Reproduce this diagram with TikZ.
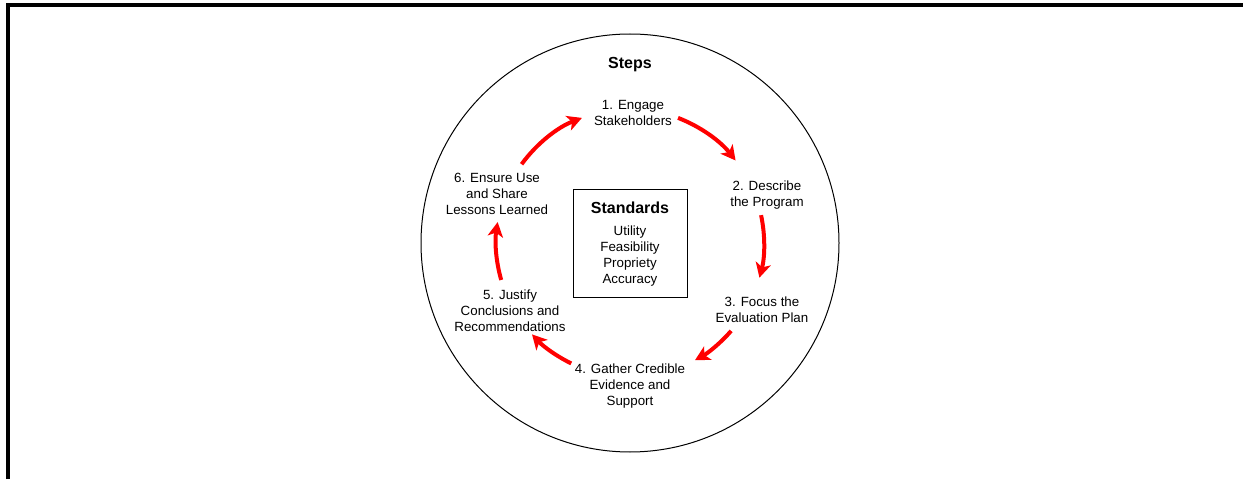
\documentclass[tikz,border=0pt]{standalone}
\usepackage{fontspec}
\setmainfont{Liberation Sans}
\usepackage{tikz}
\usetikzlibrary{arrows.meta}
\usetikzlibrary{positioning}

\begin{document}
\begin{tikzpicture}
    [x=0.75pt,y=0.75pt,
stepnode/.style={align=center, font=\fontsize{10}{12}\selectfont, inner sep=0pt},steparrow/.style={draw=red, line width=3pt, -{Stealth[length=11pt,width=11.5pt,inset=3pt]}}
]
\useasboundingbox (0,0) rectangle (1243,479);
\draw[line width=3pt] (8,0) -- (8,473.5) -- (1243,473.5);

\coordinate (centre) at (630,236);
\draw[line width=0.75pt] (centre) circle[radius=209];

\node[font=\fontsize{12}{14}\selectfont\bfseries](title) at (630,414){Steps};

\node[stepnode](step1) at (633,366){1. Engage\\Stakeholders};
\node[stepnode](step2) at (767,284){2. Describe\\the Program};
\node[stepnode](step3) at (762,169){3. Focus the\\Evaluation Plan};
\node[stepnode](step4) at (630,93){4. Gather Credible\\Evidence and\\Support};
\node[stepnode](step5) at (510,168){5. Justify\\Conclusions and\\Recommendations};
\node[stepnode](step6) at (497,285){6. Ensure Use\\and Share\\Lessons Learned};

\node[draw, line width=0.75pt, minimum width=85.5pt, minimum height=81pt, align=center, font=\fontsize{10}{12}\selectfont](standards) at (630,235){{\fontsize{12}{14}\selectfont\bfseries Standards}\\[4pt]Utility\\Feasibility\\Propriety\\Accuracy};

\coordinate (arc1) at ([shift={(144:134)}]centre);
\coordinate (arc2) at ([shift={(69:134)}]centre);
\coordinate (arc3) at ([shift={(12:134)}]centre);
\coordinate (arc4) at ([shift={(-41:134)}]centre);
\coordinate (arc5) at ([shift={(-116:134)}]centre);
\coordinate (arc6) at ([shift={(196:134)}]centre);

\draw[steparrow] (arc1) arc[start angle=144, end angle=111, radius=134];
\draw[steparrow] (arc2) arc[start angle=69, end angle=38, radius=134];
\draw[steparrow] (arc3) arc[start angle=12, end angle=-15, radius=134];
\draw[steparrow] (arc4) arc[start angle=-41, end angle=-61, radius=134];
\draw[steparrow] (arc5) arc[start angle=-116, end angle=-137, radius=134];
\draw[steparrow] (arc6) arc[start angle=196, end angle=171, radius=134];
\end{tikzpicture}
\end{document}
